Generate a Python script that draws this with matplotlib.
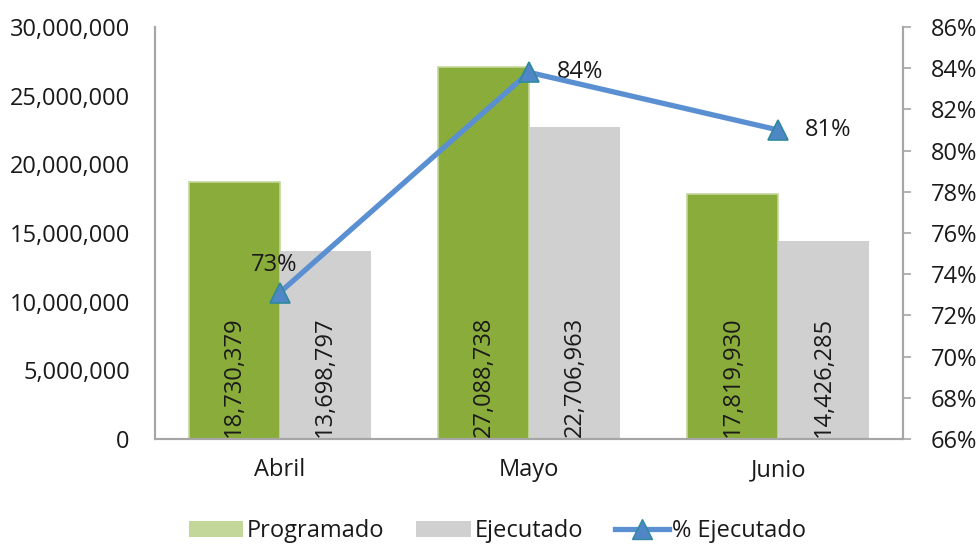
import matplotlib.pyplot as plt
import numpy as np
from matplotlib.patches import Patch
from matplotlib.lines import Line2D

meses = ['Abril', 'Mayo', 'Junio']
programado = [18730379, 27088738, 17819930]
ejecutado = [13698797, 22706963, 14426285]
pct_ejecutado = [0.731, 0.838, 0.810]
pct_labels = ['73%', '84%', '81%']

plt.rcParams['font.family'] = ['Open Sans', 'DejaVu Sans']
fs = 17
txt = '#1a1a1a'
axc = '#a6a6a6'

fig = plt.figure(figsize=(9.8, 5.46), dpi=100)
ax = fig.add_axes([0.158, 0.196, 0.7635, 0.7545])
ax2 = ax.twinx()

x = np.arange(len(meses))
w = 0.365
ax.bar(x - w / 2, programado, w, color='#8aac3a', edgecolor='#c4d79b', linewidth=1.2, zorder=2)
ax.bar(x + w / 2, ejecutado, w, color='#d0d0d0', edgecolor='none', zorder=2)

for i in range(len(meses)):
    ax.text(x[i] - w / 2, 150000, f'{programado[i]:,}', rotation=90, ha='center', va='bottom',
            fontsize=fs, color=txt, zorder=3)
    ax.text(x[i] + w / 2, 150000, f'{ejecutado[i]:,}', rotation=90, ha='center', va='bottom',
            fontsize=fs, color=txt, zorder=3)

ax.set_xlim(-0.5, 2.5)
ax.set_ylim(0, 30000000)
ax.set_yticks(np.arange(0, 30000001, 5000000))
ax.set_yticklabels([f'{int(v):,}' for v in np.arange(0, 30000001, 5000000)])
ax.set_xticks(x)
ax.set_xticklabels(meses)
ax.tick_params(axis='y', length=0, labelsize=fs, colors=txt, pad=18)
ax.tick_params(axis='x', length=0, labelsize=fs, colors=txt, pad=14)

ax2.plot(x, pct_ejecutado, color='#5a8fd2', linewidth=3.8, marker='^', markersize=14,
         markerfacecolor='#4f86c6', markeredgecolor='#2f8a9c', markeredgewidth=1.2, zorder=5)
ax2.set_ylim(0.66, 0.86)
ax2.set_yticks(np.arange(0.66, 0.8601, 0.02))
ax2.set_yticklabels([f'{int(round(v * 100))}%' for v in np.arange(0.66, 0.8601, 0.02)])
ax2.tick_params(axis='y', direction='out', length=6, width=1.2, labelsize=fs,
                labelcolor=txt, pad=14)
ax2.tick_params(axis='y', color=axc)

offsets = [(-4, 20), (37, 0), (36, 0)]
for i in range(len(meses)):
    ax2.annotate(pct_labels[i], (x[i], pct_ejecutado[i]), xytext=offsets[i], textcoords='offset points',
                 ha='center', va='center', fontsize=fs, color=txt)

for a in (ax, ax2):
    a.spines['top'].set_visible(False)
    for s in ('left', 'right', 'bottom'):
        a.spines[s].set_color(axc)
        a.spines[s].set_linewidth(1.5)
ax.set_zorder(ax2.get_zorder() - 1)
ax.patch.set_visible(False)
ax2.patch.set_visible(False)

handles = [Patch(facecolor='#c4d79b', edgecolor='none'),
           Patch(facecolor='#d0d0d0', edgecolor='none'),
           Line2D([0], [0], color='#5a8fd2', linewidth=3.8, marker='^', markersize=14,
                  markerfacecolor='#4f86c6', markeredgecolor='#2f8a9c')]
fig.legend(handles, ['Programado', 'Ejecutado', '% Ejecutado'], loc='center', bbox_to_anchor=(0.508, 0.027),
           ncol=3, frameon=False, fontsize=fs, handlelength=2.3, handleheight=0.65, columnspacing=1.35,
           handletextpad=0.15, labelcolor=txt)

fig.savefig('out.png', dpi=100)
